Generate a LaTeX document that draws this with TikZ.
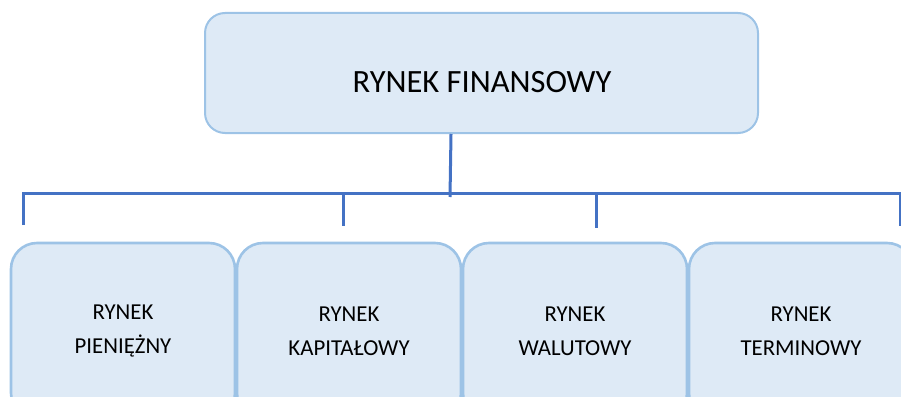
\documentclass[tikz,border=0pt]{standalone}
\usepackage{fontspec}
\setmainfont{Carlito}
\definecolor{boxfill}{HTML}{DEEAF6}
\definecolor{boxline}{HTML}{9DC3E6}
\definecolor{conn}{HTML}{4472C4}
\begin{document}
\begin{tikzpicture}[x=1pt,y=-1pt,
  topbox/.style={draw=boxline,fill=boxfill,line width=2pt,rounded corners=20pt,
    minimum width=553pt,minimum height=120pt,inner sep=0pt},
  subbox/.style={draw=boxline,fill=boxfill,line width=2.6pt,rounded corners=26pt,
    minimum width=224pt,minimum height=176pt,inner sep=0pt,align=center,
    font=\fontsize{22.8}{34}\selectfont},
  toptext/.style={font=\fontsize{32.5}{36}\selectfont,inner sep=0pt},
  connector/.style={draw=conn,line width=3pt}]
\useasboundingbox (0,0) rectangle (901,396);
\node[topbox] (top) at (481.5,73) {};
\node[toptext] (toplabel) at (482,82) {RYNEK FINANSOWY};
\node[subbox] (b1) at (123,331) {RYNEK\\PIENIĘŻNY};
\node[subbox] (b2) at (349,331) {RYNEK\\KAPITAŁOWY};
\node[subbox] (b3) at (575,331) {RYNEK\\WALUTOWY};
\node[subbox] (b4) at (801,331) {RYNEK\\TERMINOWY};
\coordinate (hubtop) at (451,134);
\coordinate (hub) at (450,197);
\coordinate (busL) at (23,193);
\coordinate (busR) at (902,193);
\coordinate (d1) at (23,225);
\coordinate (d2) at (343,226);
\coordinate (d3) at (596,228);
\coordinate (d4) at (900,226);
\draw[connector] (hubtop) -- (hub);
\draw[connector] (d1) -- (busL) -- (busR);
\draw[connector] (343,193) -- (d2);
\draw[connector] (596,193) -- (d3);
\draw[connector] (900,193) -- (d4);
\end{tikzpicture}
\end{document}
